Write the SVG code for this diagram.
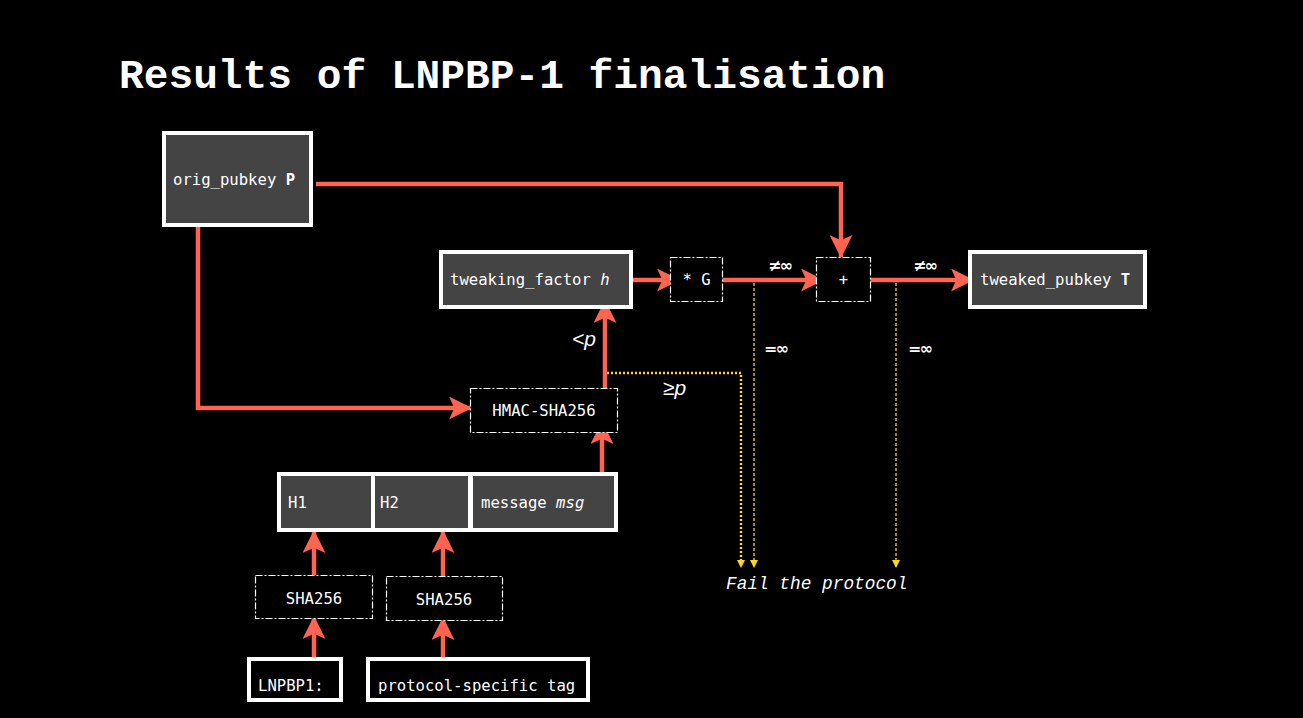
<svg xmlns="http://www.w3.org/2000/svg" width="1303" height="718" viewBox="0 0 1303 718">
  <style>
    .mono { font-family: "Liberation Mono", "DejaVu Sans Mono", monospace; fill: #ffffff; }
    .nm { font-family: "DejaVu Sans Mono", "Liberation Mono", monospace; fill: #ffffff; }
    .node { fill: #444444; stroke: #ffffff; stroke-width: 4; }
    .frame { fill: #000000; stroke: #ffffff; stroke-width: 4; }
    .op { fill: #000000; stroke: #ffffff; stroke-width: 1.2; stroke-dasharray: 7 2 2 2; }
    .lbl { font-size: 15.6px; }
    .red { fill: none; stroke: #ff6352; stroke-width: 4.5; }
    .yel { fill: none; stroke: #ffd81a; }
    .sym { font-family: "DejaVu Sans", sans-serif; font-weight: bold; font-size: 16px; fill: #ffffff; letter-spacing: -2px; }
    .it { font-family: "Liberation Sans", "DejaVu Sans", sans-serif; font-style: italic; font-size: 21px; fill: #ffffff; }
  </style>
  <defs>
    <marker id="ah" viewBox="0 0 22 22" refX="21" refY="11" markerWidth="23" markerHeight="23" markerUnits="userSpaceOnUse" orient="auto">
      <path d="M0,0 L22,11 L0,22 L5,11 z" fill="#ff6352"/>
    </marker>
    <marker id="ya" viewBox="0 0 8 8" refX="7" refY="4" markerWidth="8" markerHeight="8" markerUnits="userSpaceOnUse" orient="auto">
      <path d="M0,0 L8,4 L0,8 z" fill="#ffd81a"/>
    </marker>
  </defs>
  <rect x="0" y="0" width="1303" height="718" fill="#000000"/>

  <text class="mono" x="119" y="88" font-size="41.2" font-weight="bold">Results of LNPBP-1 finalisation</text>

  <g id="connectors">
    <path class="red" d="M316,184 H841 V257" marker-end="url(#ah)"/>
    <path class="red" d="M624,280 H679" marker-end="url(#ah)"/>
    <path class="red" d="M715,280 H823" marker-end="url(#ah)"/>
    <path class="red" d="M865,280 H973" marker-end="url(#ah)"/>
    <path class="red" d="M605,393 V301" marker-end="url(#ah)"/>
    <path class="red" d="M198,219 V408 H471" marker-end="url(#ah)"/>
    <path class="red" d="M602,483 V422" marker-end="url(#ah)"/>
    <path class="red" d="M314,575 V531" marker-end="url(#ah)"/>
    <path class="red" d="M443,576 V531" marker-end="url(#ah)"/>
    <path class="red" d="M314,657 V617" marker-end="url(#ah)"/>
    <path class="red" d="M443,657 V618" marker-end="url(#ah)"/>
    <path class="yel" d="M607,373 H741 V567" stroke-width="2.4" stroke-dasharray="2 2" marker-end="url(#ya)"/>
    <path class="yel" d="M754,283 V567" stroke-width="1.3" stroke-dasharray="3 2" marker-end="url(#ya)"/>
    <path class="yel" d="M896,283 V567" stroke-width="1.3" stroke-dasharray="3 2" marker-end="url(#ya)"/>
    <text class="it" x="572" y="346">&lt;p</text>
    <text class="it" x="663" y="395">≥p</text>
    <text class="sym" x="768" y="271">≠∞</text>
    <text class="sym" x="913" y="271">≠∞</text>
    <text class="sym" x="764" y="354">=∞</text>
    <text class="sym" x="908" y="354">=∞</text>
  </g>

  <g id="orig_pubkey">
    <rect class="node" x="164" y="133" width="147" height="92"/>
    <text class="nm lbl" x="173" y="185">orig_pubkey <tspan font-weight="bold">P</tspan></text>
  </g>

  <g id="tweaking_factor">
    <rect class="node" x="441" y="252" width="190" height="55"/>
    <text class="nm lbl" x="450" y="285">tweaking_factor <tspan font-style="italic">h</tspan></text>
  </g>

  <g id="mulG">
    <rect class="op" x="670.5" y="257.5" width="52" height="44"/>
    <text class="nm lbl" x="696.5" y="285" text-anchor="middle">* G</text>
  </g>

  <g id="plus">
    <rect class="op" x="816.5" y="257.5" width="54" height="44"/>
    <text class="nm lbl" x="843.5" y="285" text-anchor="middle">+</text>
  </g>

  <g id="tweaked_pubkey">
    <rect class="node" x="970" y="252" width="175" height="55"/>
    <text class="nm lbl" x="980" y="285">tweaked_pubkey <tspan font-weight="bold">T</tspan></text>
  </g>

  <g id="hmac">
    <rect class="op" x="470.5" y="388.5" width="147" height="44"/>
    <text class="nm lbl" x="544" y="416" text-anchor="middle">HMAC-SHA256</text>
  </g>

  <g id="message_block">
    <rect x="277" y="472" width="341" height="60" fill="#ffffff"/>
    <g id="h1">
      <rect x="281" y="476" width="90" height="52" fill="#444444"/>
      <text class="nm lbl" x="288" y="508">H1</text>
    </g>
    <g id="h2">
      <rect x="375" y="476" width="93" height="52" fill="#444444"/>
      <text class="nm lbl" x="380" y="508">H2</text>
    </g>
    <g id="msg">
      <rect x="473" y="476" width="141" height="52" fill="#444444"/>
      <text class="nm lbl" x="481" y="508">message <tspan font-style="italic">msg</tspan></text>
    </g>
  </g>

  <g id="sha256_1">
    <rect class="op" x="255.5" y="575.5" width="117" height="43"/>
    <text class="nm lbl" x="314" y="604" text-anchor="middle">SHA256</text>
  </g>

  <g id="sha256_2">
    <rect class="op" x="386.5" y="576.5" width="116" height="44"/>
    <text class="nm lbl" x="444" y="605" text-anchor="middle">SHA256</text>
  </g>

  <g id="lnpbp1">
    <rect class="frame" x="249" y="659" width="92" height="41"/>
    <text class="nm lbl" x="258" y="691">LNPBP1:</text>
  </g>

  <g id="tag">
    <rect class="frame" x="368" y="659" width="220" height="41"/>
    <text class="nm lbl" x="378" y="691">protocol-specific tag</text>
  </g>

  <g id="fail">
    <text class="mono" x="726" y="589" font-size="17.8" font-style="italic">Fail the protocol</text>
  </g>
</svg>
